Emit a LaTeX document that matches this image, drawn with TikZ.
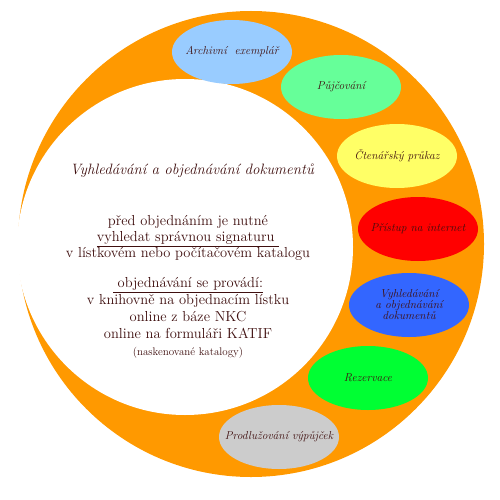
\documentclass[tikz,border=0pt]{standalone}
\usepackage{tikz}
\usetikzlibrary{shapes.geometric}

\definecolor{ringorange}{HTML}{FF9900}
\definecolor{textbrown}{HTML}{3F0F0F}
\definecolor{archblue}{HTML}{99CCFF}
\definecolor{loanmint}{HTML}{66FF99}
\definecolor{cardyellow}{HTML}{FFFF66}
\definecolor{netred}{HTML}{FF0000}
\definecolor{searchblue}{HTML}{3366FF}
\definecolor{reservegreen}{HTML}{00FF33}
\definecolor{renewgray}{HTML}{CCCCCC}

\begin{document}
\begin{tikzpicture}[x=1pt, y=-1pt,
  every bubble/.style={ellipse, minimum width=120pt, minimum height=64pt,
    inner sep=0pt},
  bubble text/.style={align=center, text=textbrown, inner sep=0pt,
    font=\fontsize{11.5}{11}\selectfont\itshape},
  every line/.style={align=center, text=textbrown}]

\useasboundingbox (0,0) rectangle (500,500);

% ring and inner disc
\fill [ringorange] (251,244) circle (233pt);
\fill [white] (185,247) circle (168pt);

\foreach \c/\l/\x/\y [count=\i] in {
    archblue/{Archivní\ \ exemplář}/232/52,
    loanmint/{Půjčování}/341/87,
    cardyellow/{Čtenářský průkaz}/397/156,
    netred/{Přístup na internet}/418/229,
    searchblue/{Vyhledávání\\a objednávání\\dokumentů}/409/305,
    reservegreen/{Rezervace}/368/378,
    renewgray/{Prodlužování výpůjček}/279/437}
  \node [every bubble/.try, fill=\c,
    label={[bubble text]center:\l}] (bubble-\i) at (\x,\y) {};

\node [every line/.try, font=\fontsize{15}{15}\selectfont\itshape]
  (title) at (192,171) {Vyhledávání a objednávání dokumentů};

\node [every line/.try, font=\fontsize{14.5}{16}\selectfont]
  (signatura) at (188,238) {před objednáním je nutné\\
    \underline{vyhledat správnou signaturu\ }\\
    v lístkovém nebo počítačovém katalogu};

\node [every line/.try, font=\fontsize{14.5}{17}\selectfont]
  (objednani) at (188,318) {\underline{\ objednávání se provádí:}\\
    v knihovně na objednacím lístku\\
    online z báze NKC\\
    online na formuláři KATIF\\
    {\fontsize{11}{12}\selectfont (naskenované katalogy)}};

\end{tikzpicture}
\end{document}
